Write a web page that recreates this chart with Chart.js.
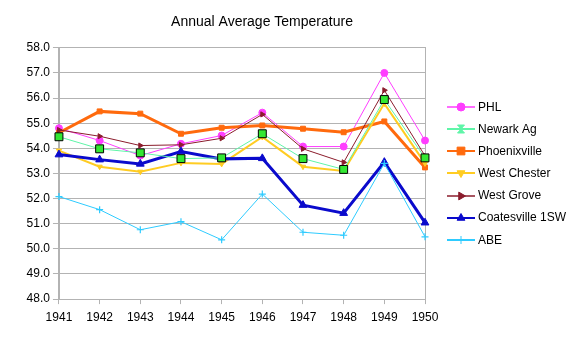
<!DOCTYPE html>
<html>
<head>
<meta charset="utf-8">
<script src="https://cdn.jsdelivr.net/npm/chart.js@4.4.1/dist/chart.umd.min.js"></script>
<style>
  html, body { margin: 0; padding: 0; background: #ffffff; }
  #wrap { width: 570px; height: 341px; }
</style>
</head>
<body>
<div id="wrap"><canvas id="c" width="570" height="341"></canvas></div>
<script>
// ---- data ----
const years = ['1941','1942','1943','1944','1945','1946','1947','1948','1949','1950'];
const phl          = [54.80, 54.31, 53.71, 54.18, 54.51, 55.42, 54.07, 54.07, 57.00, 54.31];
const newarkAg     = [54.46, 53.98, 53.82, 53.59, 53.62, 54.58, 53.59, 53.16, 55.94, 53.62];
const phoenixville = [54.62, 55.47, 55.38, 54.58, 54.82, 54.91, 54.78, 54.64, 55.07, 53.24];
const westChester  = [53.91, 53.27, 53.07, 53.42, 53.38, 54.45, 53.27, 53.10, 55.78, 53.40];
const westGrove    = [54.73, 54.48, 54.11, 54.14, 54.40, 55.35, 53.98, 53.44, 56.31, 53.70];
const coatesville  = [53.75, 53.55, 53.38, 53.87, 53.58, 53.60, 51.74, 51.42, 53.45, 51.04];
const abe          = [52.08, 51.56, 50.76, 51.08, 50.36, 52.18, 50.66, 50.54, 53.40, 50.48];
const seriesNames  = ['PHL', 'Newark Ag', 'Phoenixville', 'West Chester', 'West Grove', 'Coatesville 1SW', 'ABE'];
const yMin = 48, yMax = 58, yStep = 1;
const chartTitle = 'Annual Average Temperature';

// ---- styles ----
const FONT = "'Liberation Sans', Arial, sans-serif";
const GRID = '#b3b3b3';
const styles = [
  { color: '#ff3dff', width: 1, point: 'circle',   r: 3.5, rot: 0,   fill: '#ff3dff', border: '#ff3dff', bw: 1, order: 7, legendW: 1.5, legendR: 4 },
  { color: '#5ff5a8', width: 1, point: 'rect',     r: 5.6, rot: 0,   fill: '#33e833', border: '#000000', bw: 1, order: 1, legendW: 2, legendR: 4, hourglass: true },
  { color: '#ff6a0d', width: 3, point: 'rect',     r: 3.5, rot: 0,   fill: '#ff6a0d', border: '#ff6a0d', bw: 1, order: 6, legendW: 2, legendR: 5.5 },
  { color: '#ffcc22', width: 2, point: 'triangle', r: 3,   rot: 180, fill: '#ffcc22', border: '#ffcc22', bw: 1, order: 5, legendW: 2, legendR: 4.5 },
  { color: '#8b1c2c', width: 1, point: 'triangle', r: 3,   rot: 90,  fill: '#8b1c2c', border: '#8b1c2c', bw: 1, order: 4, legendW: 1.5, legendR: 4.5 },
  { color: '#0a0acc', width: 3, point: 'triangle', r: 4.5, rot: 0,   fill: '#0a0acc', border: '#0a0acc', bw: 1, order: 3, legendW: 2, legendR: 4.5 },
  { color: '#2ecbff', width: 1, point: 'cross',    r: 3.5, rot: 0,   fill: '#2ecbff', border: '#2ecbff', bw: 1.2, order: 2, legendW: 2, legendR: 4 }
];
const seriesData = [phl, newarkAg, phoenixville, westChester, westGrove, coatesville, abe];

function legendIcon(s) {
  const cv = document.createElement('canvas');
  cv.width = 30; cv.height = 14;
  const ctx = cv.getContext('2d');
  ctx.strokeStyle = s.color;
  ctx.lineWidth = s.legendW;
  ctx.beginPath(); ctx.moveTo(1, 7); ctx.lineTo(29, 7); ctx.stroke();
  ctx.fillStyle = s.color;
  ctx.strokeStyle = s.color;
  ctx.lineWidth = 1;
  if (s.hourglass) {
    ctx.beginPath();
    ctx.moveTo(11.5, 3); ctx.lineTo(18.5, 3); ctx.lineTo(11.5, 11); ctx.lineTo(18.5, 11); ctx.closePath();
    ctx.fill(); ctx.stroke();
  } else {
    Chart.helpers.drawPoint(ctx, { pointStyle: s.point, radius: s.legendR, rotation: s.rot, borderWidth: 1 }, 15, 7);
  }
  return cv;
}

const datasets = seriesNames.map((name, i) => {
  const s = styles[i];
  return {
    label: name,
    data: seriesData[i],
    borderColor: s.color,
    backgroundColor: s.fill,
    borderWidth: s.width,
    pointStyle: s.point,
    pointRadius: s.r,
    pointRotation: s.rot,
    pointBackgroundColor: s.fill,
    pointBorderColor: s.border,
    pointBorderWidth: s.bw,
    tension: 0,
    fill: false,
    order: s.order
  };
});

const titlePlacement = {
  id: 'titlePlacement',
  afterLayout(chart) {
    const t = chart.titleBlock;
    if (t) { t.left = 0; t.right = 524; }
  }
};

// legend drawn beside the plot: line sample + marker + label
const sideLegend = {
  id: 'sideLegend',
  afterDraw(chart) {
    const ca = chart.chartArea;
    const ctx = chart.ctx;
    const n = chart.data.datasets.length;
    const rowH = 22.1;
    const cy = (ca.top + ca.bottom) / 2;
    const y0 = cy - (n - 1) * rowH / 2;
    ctx.save();
    ctx.font = '12px ' + FONT;
    ctx.fillStyle = '#000';
    ctx.textBaseline = 'middle';
    ctx.textAlign = 'left';
    chart.data.datasets.forEach((ds, i) => {
      const y = y0 + i * rowH;
      ctx.drawImage(legendIcon(styles[i]), ca.right + 21, Math.round(y) - 7);
      ctx.fillText(ds.label, ca.right + 53, y + 0.5);
    });
    ctx.restore();
  }
};

new Chart(document.getElementById('c'), {
  type: 'line',
  data: { labels: years, datasets },
  plugins: [titlePlacement, sideLegend],
  options: {
    responsive: false,
    animation: false,
    events: [],
    layout: { padding: { left: 23.6, right: 145, top: 0, bottom: 10.5 } },
    plugins: {
      title: {
        display: true,
        text: chartTitle,
        color: '#000',
        font: { family: FONT, size: 14, weight: 'normal' },
        padding: { top: 14, bottom: 17 }
      },
      legend: { display: false },
      tooltip: { enabled: false }
    },
    scales: {
      x: {
        type: 'category',
        offset: false,
        grid: { display: true, drawOnChartArea: false, drawTicks: true, tickLength: 5, color: GRID },
        border: { display: true, color: GRID, width: 1 },
        ticks: { color: '#000', font: { family: FONT, size: 12 }, padding: 6, maxRotation: 0, autoSkip: false }
      },
      y: {
        min: yMin, max: yMax,
        grid: { color: GRID, lineWidth: 1, tickLength: 6, drawTicks: true },
        border: { display: true, color: GRID, width: 2 },
        ticks: { stepSize: yStep, color: '#000', font: { family: FONT, size: 12 }, padding: 3,
                 callback: v => Number(v).toFixed(1) }
      },
      gap: {
        type: 'linear', position: 'right', display: true,
        grid: { display: false, drawTicks: false },
        border: { display: true, color: GRID, width: 1 },
        ticks: { display: false },
        afterFit(scale) { scale.width = 0; }
      }
    }
  }
});
</script>
</body>
</html>
